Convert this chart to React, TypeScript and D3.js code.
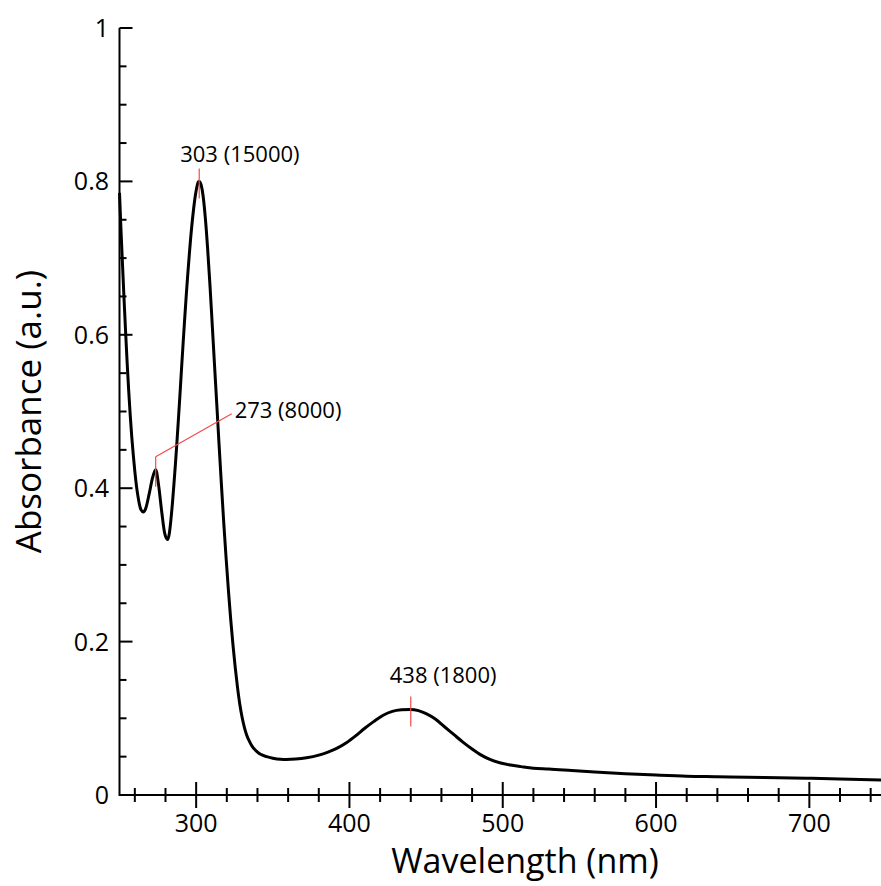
import React, { useEffect, useRef } from "react";
import * as d3 from "d3";

// UV-vis spectrum
const wavelengths = [
  250, 251, 252, 253, 254, 255, 256, 257, 258, 259, 260, 261, 262, 263, 264,
  265.5, 267, 269.4, 271.5, 273.6, 275.5, 277.5, 279.5, 281.4, 282.5, 283.5,
  284.5, 285.5, 286.5, 287.5, 288.5, 289.5, 290.5, 291.5, 292.5, 293.5, 294.5,
  295.5, 296.5, 297.5, 298.5, 299.5, 300.5, 301.3, 302, 303.3, 304.6, 306,
  307.5, 309, 310.5, 312, 313.5, 315, 316.5, 318, 319.5, 321, 322.5, 324,
  325.5, 327, 328.5, 330, 331.5, 333, 335, 337, 339.5, 342, 346, 350, 355,
  359, 365, 372, 380, 386, 392, 398, 404, 410, 416, 422, 428, 434, 439.5, 445,
  450, 456, 462, 468, 474, 480, 486, 492, 498, 505, 512, 520, 530, 545, 560,
  580, 600, 620, 640, 660, 680, 700, 720, 747,
];
const absorbance = [
  0.785, 0.735, 0.69, 0.645, 0.603, 0.563, 0.527, 0.495, 0.467, 0.443, 0.422,
  0.404, 0.39, 0.379, 0.372, 0.369, 0.373, 0.393, 0.413, 0.424, 0.404, 0.37,
  0.341, 0.333, 0.341, 0.358, 0.38, 0.405, 0.432, 0.461, 0.492, 0.524, 0.557,
  0.589, 0.62, 0.65, 0.678, 0.704, 0.728, 0.749, 0.767, 0.782, 0.793, 0.799,
  0.8, 0.795, 0.78, 0.752, 0.712, 0.665, 0.613, 0.56, 0.508, 0.455, 0.404,
  0.355, 0.31, 0.268, 0.23, 0.196, 0.166, 0.14, 0.118, 0.101, 0.088, 0.078,
  0.069, 0.062, 0.057, 0.053, 0.05, 0.048, 0.0465, 0.0462, 0.0468, 0.0485,
  0.052, 0.056, 0.061, 0.068, 0.077, 0.087, 0.096, 0.104, 0.109, 0.111, 0.1115,
  0.11, 0.106, 0.099, 0.089, 0.079, 0.069, 0.06, 0.052, 0.046, 0.042, 0.039,
  0.037, 0.035, 0.034, 0.032, 0.03, 0.0278, 0.026, 0.0245, 0.0238, 0.023,
  0.0225, 0.0218, 0.021, 0.0196,
];

// peak labels
const peakLabels = ["273 (8000)", "303 (15000)", "438 (1800)"];
const peakWavelengths = [273.6, 302, 440];
const peakAbsorbance = [0.424, 0.8, 0.1115];

const xMajorTicks = [300, 400, 500, 600, 700];
const yMajorTicks = [0, 0.2, 0.4, 0.6, 0.8, 1];

const W = 881;
const H = 886;
const FONT = "'Open Sans', sans-serif";

const App = () => {
  const ref = useRef<SVGSVGElement>(null);

  useEffect(() => {
    const svg = d3.select(ref.current);
    svg.selectAll("*").remove();

    const x = d3.scaleLinear().domain([250, 750]).range([119.5, 886]);
    const y = d3.scaleLinear().domain([0, 1]).range([795, 28]);
    const x0 = x(250);
    const yBase = y(0);

    // spectrum
    const pts = wavelengths.map((w, i) => [w, absorbance[i]] as [number, number]);
    svg
      .append("path")
      .datum(pts)
      .attr("fill", "none")
      .attr("stroke", "#000")
      .attr("stroke-width", 3)
      .attr("stroke-linejoin", "round")
      .attr(
        "d",
        d3
          .line<[number, number]>()
          .x((d) => x(d[0]))
          .y((d) => y(d[1]))
          .curve(d3.curveMonotoneX)
      );

    // axes lines
    const ax = svg.append("g").attr("stroke", "#000").attr("stroke-width", 2);
    ax.append("line").attr("x1", x0).attr("x2", W).attr("y1", yBase).attr("y2", yBase);
    ax.append("line").attr("x1", x0).attr("x2", x0).attr("y1", y(1)).attr("y2", yBase + 1);

    // x ticks: major cross the axis, minor every 20 nm
    const xMinor = d3.range(260, 750, 20).filter((v) => v % 100 !== 0);
    xMinor.forEach((v) => {
      ax.append("line").attr("x1", x(v)).attr("x2", x(v)).attr("y1", yBase - 7).attr("y2", yBase + 7);
    });
    xMajorTicks.forEach((v) => {
      ax.append("line").attr("x1", x(v)).attr("x2", x(v)).attr("y1", yBase - 13).attr("y2", yBase + 13);
    });

    // y ticks point inward
    d3.range(0.05, 1, 0.05)
      .filter((v) => Math.abs(v * 5 - Math.round(v * 5)) > 1e-6)
      .forEach((v) => {
        ax.append("line").attr("x1", x0).attr("x2", x0 + 7).attr("y1", y(v)).attr("y2", y(v));
      });
    yMajorTicks.forEach((v) => {
      ax.append("line").attr("x1", x0).attr("x2", x0 + 13).attr("y1", y(v)).attr("y2", y(v));
    });

    // tick labels
    svg
      .append("g")
      .selectAll("text")
      .data(xMajorTicks)
      .enter()
      .append("text")
      .attr("x", (d) => x(d))
      .attr("y", 832)
      .attr("text-anchor", "middle")
      .style("font-family", FONT)
      .style("font-size", "25px")
      .text((d) => d);

    svg
      .append("g")
      .selectAll("text")
      .data(yMajorTicks)
      .enter()
      .append("text")
      .attr("x", 109)
      .attr("y", (d) => y(d))
      .attr("dy", "0.36em")
      .attr("text-anchor", "end")
      .style("font-family", FONT)
      .style("font-size", "25px")
      .text((d) => d3.format("")(d));

    // axis titles
    svg
      .append("text")
      .attr("x", 525)
      .attr("y", 873)
      .attr("text-anchor", "middle")
      .style("font-family", FONT)
      .style("font-size", "34px")
      .text("Wavelength (nm)");

    svg
      .append("text")
      .attr("transform", "translate(41," + (y(0.5)) + ") rotate(-90)")
      .attr("text-anchor", "middle")
      .style("font-family", FONT)
      .style("font-size", "35px")
      .text("Absorbance (a.u.)");

    // peak annotations
    const red = "#f24a4a";
    const ann = svg.append("g");
    peakWavelengths.forEach((w, i) => {
      const px = x(w);
      const py = y(peakAbsorbance[i]);
      ann.append("line")
        .attr("x1", px).attr("x2", px)
        .attr("y1", py - 13).attr("y2", py + 17)
        .attr("stroke", red).attr("stroke-width", 1.2);
      let tx = px - 19;
      let ty = py - 19;
      if (i === 0) {
        // leader line out to the right
        ann.append("line")
          .attr("x1", px).attr("x2", px + 76)
          .attr("y1", py - 13).attr("y2", py - 56)
          .attr("stroke", red).attr("stroke-width", 1.2);
        tx = px + 79;
        ty = py - 52;
      } else if (i === 2) {
        tx = px - 21;
        ty = py - 26;
      }
      ann.append("text")
        .attr("x", tx)
        .attr("y", ty)
        .style("font-family", FONT)
        .style("font-size", "22px")
        .text(peakLabels[i]);
    });
  }, []);

  return (
    <svg
      ref={ref}
      width={W}
      height={H}
      style={{ position: "absolute", left: 0, top: 0, display: "block", background: "#fff" }}
    />
  );
};

export default App;
